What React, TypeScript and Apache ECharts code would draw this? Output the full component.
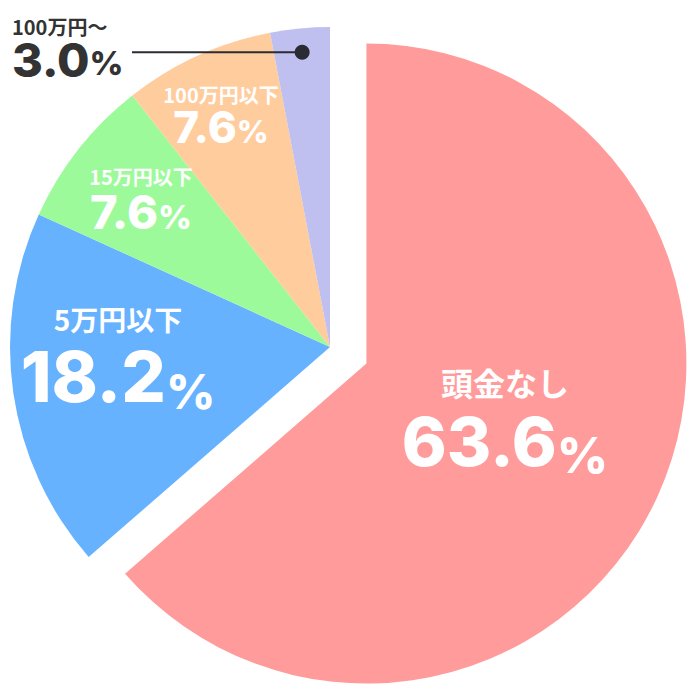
import React, { useEffect, useRef } from "react";
import * as echarts from "echarts";

// ---- data ----
const categories = ["頭金なし", "5万円以下", "15万円以下", "100万円以下", "100万円〜"];
const shares = [63.6, 18.2, 7.6, 7.6, 3.0];
const colors = ["#FF9B9B", "#66B2FF", "#9CFA9A", "#FFCC9E", "#C0C0F0"];

// ---- styling / layout (not data) ----
const explodeIndex = 0; // the slice pulled out of the pie
const EXPLODE_OFFSET = 40;
const labelStyles = [
  { name: 32, nameLH: 40, num: 68, numLH: 78, pct: 50, color: "#ffffff" },
  { name: 28, nameLH: 36, num: 70, numLH: 78, pct: 48, color: "#ffffff" },
  { name: 20, nameLH: 26, num: 47, numLH: 44, pct: 33, color: "#ffffff" },
  { name: 20, nameLH: 26, num: 44, numLH: 40, pct: 31, color: "#ffffff" },
  { name: 20, nameLH: 26, num: 47, numLH: 40, pct: 33, color: "#333333" },
];
const labelPlacement = [
  { x: 505, y: 421, align: "center" },
  { x: 118, y: 358, align: "center" },
  { x: 141, y: 198, align: "center" },
  { x: 221, y: 114, align: "center" },
  { x: 12, y: 46, align: "left" },
];

const PIE_CENTER = [330, 347];
const PIE_RADIUS = 320;
const LEADER_RADIUS = 296;
const LEADER_END_X = 132;

const CJK = "'Noto Sans CJK JP', 'Noto Sans CJK SC', sans-serif";
const NUM = "Inter, 'Liberation Sans', Arial, sans-serif";
const HIDDEN = "rgba(0,0,0,0)";

export default function App() {
  const ref = useRef<HTMLDivElement>(null);

  useEffect(() => {
    if (!ref.current) return;
    const chart = echarts.init(ref.current, undefined, { renderer: "svg" });

    const total = shares.reduce((a, b) => a + b, 0);
    const midAngle = (i: number) => {
      const before = shares.slice(0, i).reduce((a, b) => a + b, 0);
      return ((before + shares[i] / 2) / total) * Math.PI * 2; // clockwise from top
    };

    // centre of the exploded slice, moved along its bisector
    const ea = midAngle(explodeIndex);
    const explodedCenter = [
      PIE_CENTER[0] + Math.sin(ea) * EXPLODE_OFFSET,
      PIE_CENTER[1] - Math.cos(ea) * EXPLODE_OFFSET,
    ];

    // leader dot for the smallest (last) slice, on its bisector
    const la = midAngle(shares.length - 1);
    const dotX = PIE_CENTER[0] + Math.sin(la) * LEADER_RADIUS;
    const dotY = PIE_CENTER[1] - Math.cos(la) * LEADER_RADIUS;

    const makeData = (visible: (i: number) => boolean) =>
      categories.map((name, i) => {
        const s = labelStyles[i];
        const show = visible(i);
        const rich: any = {
          n: { fontFamily: CJK, fontWeight: "bold", fontSize: s.name, lineHeight: s.nameLH, color: s.color },
          v: { fontFamily: NUM, fontWeight: 800, fontSize: s.num, lineHeight: s.numLH, color: s.color },
          p: {
            fontFamily: NUM,
            fontWeight: 800,
            fontSize: s.pct,
            lineHeight: s.numLH - 0.7 * (s.num - s.pct),
            verticalAlign: "bottom",
            color: s.color,
          },
        };
        return {
          name,
          value: shares[i],
          itemStyle: { color: show ? colors[i] : HIDDEN },
          label: {
            show,
            position: "inside",
            formatter: (p: any) => `{n|${p.name}}\n{v|${p.value.toFixed(1)}}{p|%}`,
            rich,
          },
        };
      });

    const common = {
      type: "pie",
      radius: PIE_RADIUS,
      startAngle: 90,
      clockwise: true,
      avoidLabelOverlap: false,
      silent: true,
      selectedMode: false,
      emphasis: { disabled: true },
      itemStyle: { borderWidth: 0 },
      labelLine: { show: false },
      labelLayout: (params: any) => {
        const lp = labelPlacement[params.dataIndex];
        return { x: lp.x, y: lp.y, align: lp.align, verticalAlign: "middle" };
      },
    };

    chart.setOption({
      animation: false,
      backgroundColor: "#ffffff",
      series: [
        { ...common, name: "rest", center: PIE_CENTER, data: makeData((i) => i !== explodeIndex) },
        { ...common, name: "exploded", center: explodedCenter, data: makeData((i) => i === explodeIndex) },
      ],
      graphic: [
        {
          type: "line",
          shape: { x1: LEADER_END_X, y1: dotY, x2: dotX, y2: dotY },
          style: { stroke: "#2b2b33", lineWidth: 2 },
          z: 100,
        },
        {
          type: "circle",
          shape: { cx: dotX, cy: dotY, r: 7.5 },
          style: { fill: "#2b2b33" },
          z: 100,
        },
      ],
    });

    return () => chart.dispose();
  }, []);

  return (
    <div
      ref={ref}
      style={{ position: "fixed", left: 0, top: 0, width: 700, height: 700, background: "#fff" }}
    />
  );
}
